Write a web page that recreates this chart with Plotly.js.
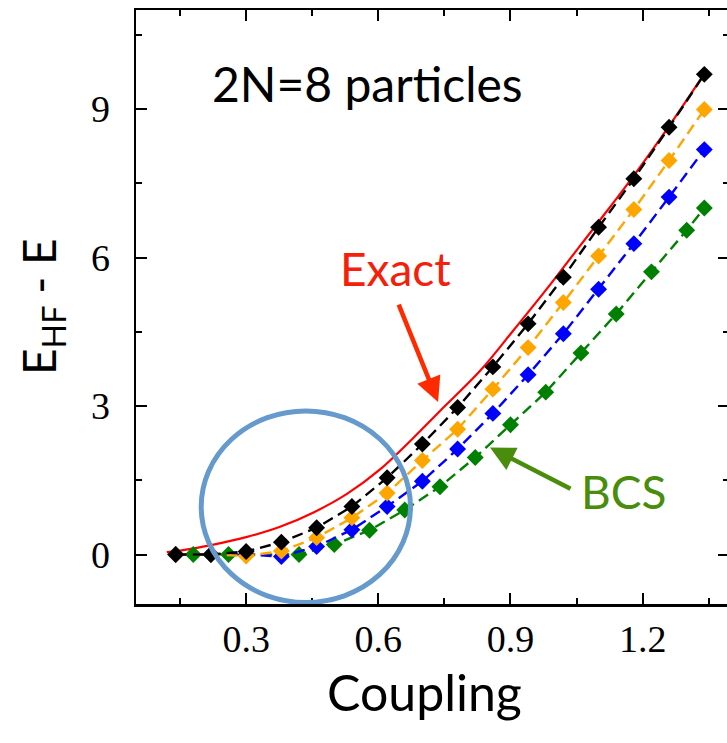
<!DOCTYPE html>
<html>
<head>
<meta charset="utf-8">
<script src="https://cdn.plot.ly/plotly-3.0.1.min.js"></script>
<style>
html,body{margin:0;padding:0;overflow:hidden;background:#fff;}
#chart{width:729px;height:743px;}
</style>
</head>
<body>
<div id="chart"></div>
<script>
// Coupling values for the HF-based series
const xMain = [0.14,0.22,0.30,0.38,0.46,0.54,0.62,0.70,0.78,0.86,0.94,1.02,1.10,1.18,1.26,1.34];
const yBlack = [0.00,0.00,0.06,0.25,0.54,0.97,1.55,2.23,2.97,3.79,4.66,5.60,6.61,7.59,8.63,9.70];
const yOrange = [0.00,0.00,-0.03,0.07,0.34,0.74,1.24,1.90,2.53,3.34,4.18,5.09,6.03,6.97,7.96,8.99];
const yBlue = [0.00,0.00,0.00,-0.04,0.16,0.50,0.97,1.48,2.13,2.85,3.63,4.46,5.36,6.28,7.22,8.18];
// BCS series
const xGreen = [0.18,0.26,0.42,0.50,0.58,0.66,0.74,0.82,0.90,0.98,1.06,1.14,1.22,1.30,1.34];
const yGreen = [0.00,0.00,0.00,0.20,0.49,0.90,1.37,1.96,2.62,3.28,4.07,4.86,5.71,6.55,7.00];
// Exact curve
const xExact = [0.12,0.15,0.226,0.30,0.377,0.453,0.528,0.604,0.68,0.74,0.83,0.906,0.982,1.053,1.10,1.177,1.258,1.339];
const yExact = [0.05,0.08,0.20,0.35,0.56,0.85,1.22,1.72,2.36,2.90,3.70,4.52,5.36,6.18,6.72,7.62,8.63,9.70];
// Tick labels
const xTickVals = [0.3,0.6,0.9,1.2];
const xTickText = ['0.3','0.6','0.9','1.2'];
const yTickVals = [0,3,6,9];
const yTickText = ['0','3','6','9'];

const dash = '11px,6px';
function series(x, y, color) {
  return {
    x: x, y: y, type: 'scatter', mode: 'lines+markers',
    line: {color: color, width: 2.4, dash: dash},
    marker: {symbol: 'diamond', size: 13, color: color},
    hoverinfo: 'skip'
  };
}
const traces = [
  {x: xExact, y: yExact, type: 'scatter', mode: 'lines',
   line: {color: '#ff0000', width: 2.2, shape: 'spline', smoothing: 1}, hoverinfo: 'skip'},
  series(xGreen, yGreen, '#008000'),
  series(xMain, yBlue, '#0000ff'),
  series(xMain, yOrange, '#ffa500'),
  series(xMain, yBlack, '#000000')
];

const axisCommon = {
  showgrid: false, zeroline: false,
  showline: true, linecolor: '#000', linewidth: 2.5, mirror: 'allticks',
  ticks: 'inside', ticklen: 11, tickwidth: 2, tickcolor: '#000',
  tickfont: {family: 'Liberation Serif, Times New Roman, serif', size: 38, color: '#000'},
  tickmode: 'array'
};

const layout = {
  width: 729, height: 743,
  margin: {l: 136, r: 0, t: 10, b: 139},
  paper_bgcolor: '#fff', plot_bgcolor: '#fff',
  showlegend: false,
  xaxis: Object.assign({}, axisCommon, {
    range: [0.05, 1.396], tickvals: xTickVals, ticktext: xTickText,
    ticklabelstandoff: 0,
    minor: {tickmode: 'array', tickvals: [0.15,0.45,0.75,1.05,1.35], ticklen: 6, tickwidth: 2, tickcolor: '#000', ticks: 'inside'}
  }),
  yaxis: Object.assign({}, axisCommon, {
    range: [-1, 11], tickvals: yTickVals, ticktext: yTickText,
    ticklabelstandoff: 16,
    minor: {tickmode: 'array', tickvals: [1.5,4.5,7.5,10.5], ticklen: 6, tickwidth: 2, tickcolor: '#000', ticks: 'inside'}
  }),
  shapes: [
    {type: 'circle', xref: 'x', yref: 'y', x0: 0.198, x1: 0.673, y0: -0.97, y1: 2.90,
     line: {color: '#6699cc', width: 5}, layer: 'above'}
  ],
  annotations: [
    {text: '2N=8 particles', xref: 'x', yref: 'y', x: 0.575, y: 9.52, showarrow: false,
     font: {family: 'Lato, sans-serif', size: 48, color: '#000'}},
    {text: 'Exact', xref: 'x', yref: 'y', x: 0.640, y: 5.77, showarrow: false,
     font: {family: 'Lato, sans-serif', size: 46, color: '#f5200a'}},
    {text: 'BCS', xref: 'x', yref: 'y', x: 1.156, y: 1.27, showarrow: false,
     font: {family: 'Lato, sans-serif', size: 46, color: '#4a8c0c'}},
    {text: '', xref: 'x', yref: 'y', x: 0.7357, y: 3.08, showarrow: true,
     ax: -40, ay: -99, arrowhead: 2, arrowsize: 1.1, arrowwidth: 4.5, arrowcolor: '#ff2a00', standoff: 0},
    {text: '', xref: 'x', yref: 'y', x: 0.8535, y: 2.16, showarrow: true,
     ax: 82, ay: 42, arrowhead: 2, arrowsize: 1.1, arrowwidth: 4.5, arrowcolor: '#4a8c0c', standoff: 0},
    {text: 'Coupling', xref: 'paper', yref: 'paper', x: 0.4857, y: -0.148,
     xanchor: 'center', yanchor: 'middle', showarrow: false,
     font: {family: 'Lato, sans-serif', size: 50, color: '#000'}},
    {text: 'E<sub>HF</sub> - E', xref: 'paper', yref: 'paper', x: -0.1585, y: 0.5,
     xanchor: 'center', yanchor: 'middle', textangle: -90, showarrow: false,
     font: {family: 'Lato, sans-serif', size: 46, color: '#000'}}
  ]
};

Plotly.newPlot('chart', traces, layout, {displayModeBar: false, staticPlot: true});
</script>
</body>
</html>
